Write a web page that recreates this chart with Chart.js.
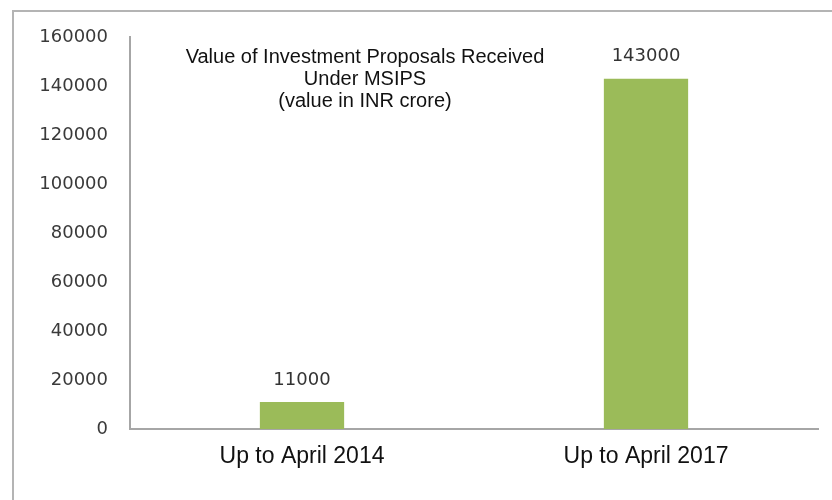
<!DOCTYPE html>
<html>
<head>
<meta charset="utf-8">
<script src="https://cdn.jsdelivr.net/npm/chart.js@4/dist/chart.umd.min.js"></script>
<style>
  html, body { margin: 0; padding: 0; background: #fff; }
  #wrap { position: relative; width: 832px; height: 500px; }
  #frame { position: absolute; left: 12px; top: 10px; right: -4px; bottom: -4px;
           border-top: 2px solid #b4b4b4; border-left: 2px solid #b4b4b4; }
  canvas { position: absolute; left: 0; top: 0; }
</style>
</head>
<body>
<div id="wrap">
  <div id="frame"></div>
  <canvas id="msipsChart" width="832" height="500"></canvas>
</div>
<script>
'use strict';

var categories = ['Up to April 2014', 'Up to April 2017'];
var proposalValues = [11000, 143000];
var titleLines = ['Value of Investment Proposals Received', 'Under MSIPS', '(value in INR crore)'];

// value labels above each bar
var barValuePlugin = {
  id: 'barValues',
  afterDatasetsDraw: function (chart) {
    var ctx = chart.ctx;
    var meta = chart.getDatasetMeta(0);
    ctx.save();
    ctx.font = '18px "DejaVu Sans"';
    ctx.fillStyle = '#333';
    ctx.textAlign = 'center';
    ctx.textBaseline = 'middle';
    meta.data.forEach(function (bar, i) {
      ctx.fillText(String(proposalValues[i]), bar.x, bar.y - 22);
    });
    ctx.restore();
  }
};

// three-line heading inside the plot
var headingPlugin = {
  id: 'heading',
  afterDraw: function (chart) {
    var ctx = chart.ctx;
    ctx.save();
    ctx.font = '20px "Liberation Sans"';
    ctx.fillStyle = '#111';
    ctx.textAlign = 'center';
    ctx.textBaseline = 'middle';
    titleLines.forEach(function (line, i) {
      ctx.fillText(line, 365, 57 + i * 22);
    });
    ctx.restore();
  }
};

var ctx = document.getElementById('msipsChart').getContext('2d');
var chart = new Chart(ctx, {
  type: 'bar',
  data: {
    labels: categories,
    datasets: [{
      label: 'Investment proposals',
      data: proposalValues,
      backgroundColor: '#9bbb59',
      borderWidth: 0,
      barPercentage: 1,
      categoryPercentage: 0.245
    }]
  },
  options: {
    responsive: false,
    animation: false,
    layout: { padding: { left: 0, top: 37, right: 14, bottom: 0 } },
    plugins: {
      legend: { display: false },
      tooltip: { enabled: false }
    },
    scales: {
      x: {
        grid: { display: false, drawTicks: false },
        border: { display: true, color: '#a6a6a6', width: 2 },
        ticks: { color: '#111', font: { family: 'Liberation Sans', size: 23 }, padding: 14 },
        afterFit: function (scale) { scale.height = 71; }
      },
      y: {
        min: 0,
        max: 160000,
        grid: { display: false, drawTicks: false },
        border: { display: true, color: '#a6a6a6', width: 2 },
        ticks: {
          stepSize: 20000,
          color: '#3a3a3a',
          font: { family: 'DejaVu Sans', size: 18 },
          padding: 22,
          callback: function (value) { return String(value); }
        },
        afterFit: function (scale) { scale.width = 130; }
      }
    }
  },
  plugins: [barValuePlugin, headingPlugin]
});
</script>
</body>
</html>
